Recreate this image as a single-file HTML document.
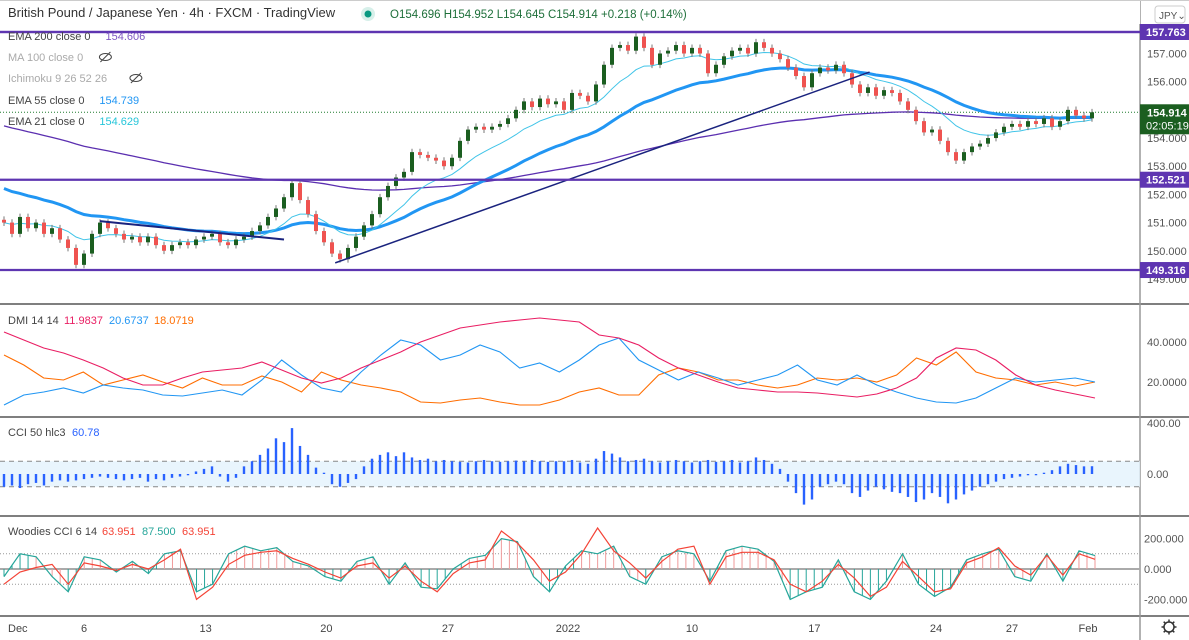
<!DOCTYPE html>
<html><head><meta charset="utf-8">
<style>
body{margin:0;background:#fff;font-family:"Liberation Sans",sans-serif;}
#wrap{position:relative;width:1189px;height:640px;overflow:hidden;}
svg text{font-family:"Liberation Sans",sans-serif;}
</style></head>
<body>
<div id="wrap">
<svg id="c" width="1189" height="640" viewBox="0 0 1189 640"></svg>
</div>
<script>
// ---- data ----
const closes=[151.0,150.6,151.2,150.8,151.0,150.6,150.8,150.4,150.1,149.5,149.9,150.6,151.0,150.8,150.6,150.4,150.5,150.3,150.5,150.2,150.0,150.2,150.3,150.2,150.4,150.5,150.6,150.3,150.2,150.4,150.5,150.7,150.9,151.2,151.5,151.9,152.4,151.8,151.3,150.7,150.3,149.9,149.7,150.1,150.5,150.9,151.3,151.9,152.3,152.6,152.8,153.5,153.4,153.3,153.2,153.0,153.3,153.9,154.3,154.4,154.3,154.4,154.5,154.7,155.0,155.3,155.1,155.4,155.2,155.3,155.0,155.6,155.5,155.3,155.9,156.6,157.2,157.3,157.1,157.6,157.2,156.6,157.0,157.1,157.3,157.0,157.2,157.0,156.3,156.6,156.9,157.1,157.2,157.0,157.4,157.2,157.0,156.8,156.5,156.2,155.8,156.3,156.5,156.4,156.6,156.3,155.9,155.6,155.8,155.5,155.7,155.6,155.3,155.0,154.6,154.2,154.3,153.9,153.5,153.2,153.5,153.7,153.8,154.0,154.2,154.4,154.5,154.4,154.6,154.5,154.7,154.4,154.6,155.0,154.8,154.7,154.914];
const levels=[157.763,152.521,149.316];
const priceTicks=[157,156,154,153,152,151,150,149];
const dmiAdx=[45,41,37,34.5,31,27,22,18.5,18.5,22,25,26,27,30,26,22,19.5,22,27,31,35,40,43.5,47,48.5,50,51,52,51,50,43.5,42,38.5,32,27,23.5,20,17,16,15,15,14.5,13.5,12.5,14,17,22,32,37,36,31,23.5,18.5,16,14,12];
const dmiPlus=[8.5,13.5,15,17,14.5,18.5,17,16,13.5,13,14.5,16,13.5,21,31,23.5,17,15,25,33.5,41,38.5,31,33.5,38.5,35,27,29.5,25,31,38.5,42,31,26,21,25,22,18.5,21,23.5,28.5,21,18.5,23.5,18.5,15,12,10,9.5,12,17,22,20,21,22,20];
const dmiMinus=[33.5,28.5,22,21,25,18.5,21,23.5,20,17,22,18.5,18.5,23,20,15,25,21,18.5,17,15,10,9.5,11,12,10,8.5,8.5,11,15,17,13.5,13.5,23.5,27,25,21,21,18.5,17,18.5,22,21,22,20,23.5,32,28.5,35,25,22,21,18.5,20,18,20];
const cci=[-100,-90,-110,-80,-70,-90,-60,-50,-60,-50,-40,-30,-20,-30,-40,-50,-40,-30,-60,-40,-50,-30,-20,-10,20,40,60,-20,-60,-30,60,100,150,200,280,250,360,220,150,50,10,-80,-100,-70,-40,60,120,150,170,140,170,130,110,120,100,110,100,95,90,100,110,100,95,100,105,100,110,100,95,100,100,110,90,80,120,180,160,130,100,110,120,100,90,100,110,100,90,100,110,95,100,110,90,100,130,110,80,40,-60,-150,-240,-200,-100,-80,-60,-80,-150,-180,-130,-100,-120,-140,-150,-180,-220,-200,-150,-180,-230,-200,-160,-130,-100,-80,-60,-40,-30,-20,-10,-10,10,30,60,80,70,60,61];
const wTeal=[-50,100,80,-50,-150,80,60,-20,50,-30,100,120,-150,-100,100,150,120,140,50,20,-50,-80,50,80,-100,40,-120,-130,0,70,90,200,180,-50,-150,20,120,100,150,-50,-100,80,120,100,-80,120,150,130,50,-200,-150,-120,60,-150,-200,-80,100,-100,-180,-120,60,100,130,-50,-80,100,-80,120,88];
const wRed=[-100,-20,10,30,-100,40,20,-10,30,0,60,130,-200,-120,30,90,110,120,70,30,-20,-60,20,40,-60,20,-80,-150,-30,40,60,250,170,60,-80,-20,100,270,120,40,-60,50,130,150,-100,80,110,110,60,-100,-150,-80,30,-60,-180,-120,50,-50,-150,-130,40,80,140,20,-40,90,-40,100,64];
const dateLabels=["Dec","6","13","20","27","2022","10","17","24","27","Feb"];
const dateBars=[0.5,10,25.2,40.3,55.5,70.5,86,101.3,116.5,126,135.5];

// ---- helpers ----
const NS="http://www.w3.org/2000/svg",svg=document.getElementById('c');
function el(t,a,p){const e=document.createElementNS(NS,t);for(const k in a)e.setAttribute(k,a[k]);(p||svg).appendChild(e);return e;}
function txt(x,y,s,fill,size,anchor){const e=el('text',{x:x,y:y,fill:fill,'font-size':size||11,'text-anchor':anchor||'start'});e.textContent=s;return e;}
const bx=i=>4+8*i;
const py=p=>32+(157.763-p)*28.18;
const dy=v=>422-v*2;
const cy=v=>474-v*0.1275;
const wy=v=>569-v*0.152;
const nx=(i,n)=>4+i*(1091/(n-1));
function ema(arr,n,seed){const a=2/(n+1);let e=seed;return arr.map(c=>(e=e+a*(c-e)));}
function pathOf(vals,xf,yf){return vals.map((v,i)=>(i?'L':'M')+xf(i).toFixed(1)+' '+yf(v).toFixed(1)).join(' ');}

// frame
el('rect',{x:0,y:0,width:1189,height:640,fill:'#fff'});
// separators
[[304,'pane-separator-1'],[417,'pane-separator-2'],[516,'pane-separator-3'],[616,'pane-separator-4']].forEach(s=>{
 const l=el('line',{x1:0,x2:1189,y1:s[0],y2:s[0],stroke:'#555','stroke-width':1.5});
 
 
});
const ax=el('line',{x1:1140,x2:1140,y1:0,y2:640,stroke:'#999','stroke-width':1.5});



// ---- main pane ----
const gMain=el('g',{});


// last price dotted line
el('line',{x1:0,x2:1140,y1:py(closes[closes.length-1]),y2:py(closes[closes.length-1]),stroke:'#1e7b2f','stroke-dasharray':'1 2','stroke-width':1},gMain);
// EMAs
const e200=ema(closes,100,154.5),e55=ema(closes,28,152.3),e21=ema(closes,11,151.0);
const l200=el('path',{d:pathOf(e200,bx,py),fill:'none',stroke:'#5b2fb0','stroke-width':1.3},gMain);


const l55=el('path',{d:pathOf(e55,bx,py),fill:'none',stroke:'#2196f3','stroke-width':3},gMain);


const l21=el('path',{d:pathOf(e21,bx,py),fill:'none',stroke:'#40c4e8','stroke-width':1},gMain);


// candles
closes.forEach((c,i)=>{
 const o=i?closes[i-1]:c+0.1;const up=c>=o;const col=up?'#1b5e20':'#ef5350';
 const hi=Math.max(o,c)+0.12,lo=Math.min(o,c)-0.12;
 const g=el('g',{},gMain);
 
 
 el('line',{x1:bx(i),x2:bx(i),y1:py(hi),y2:py(lo),stroke:'#777','stroke-width':1},g);
 el('rect',{x:bx(i)-2,y:Math.min(py(o),py(c)),width:4,height:Math.max(1,Math.abs(py(o)-py(c))),fill:col},g);
});
// trendlines
const t1=el('line',{x1:bx(12),y1:py(151.05),x2:bx(35),y2:py(150.4),stroke:'#1a237e','stroke-width':2},gMain);


const t2=el('line',{x1:bx(41.4),y1:py(149.57),x2:bx(108.2),y2:py(156.34),stroke:'#1a237e','stroke-width':1.5},gMain);


// horizontal levels
levels.forEach(v=>{
 const l=el('line',{x1:0,x2:1140,y1:py(v),y2:py(v),stroke:'#5e35b1','stroke-width':2.2},gMain);
 
 
});
// header bg
el('rect',{x:0,y:0,width:1140,height:24,fill:'#fff'});
el('line',{x1:0,x2:1189,y1:0.5,y2:0.5,stroke:'#ccc'});
el('line',{x1:0,x2:1140,y1:py(levels[0]),y2:py(levels[0]),stroke:'#5e35b1','stroke-width':2.2});
const ti=txt(8,17,'British Pound / Japanese Yen · 4h · FXCM · TradingView','#333',13);


el('circle',{cx:368,cy:14,r:7,fill:'#d7f0ea'});el('circle',{cx:368,cy:14,r:3.5,fill:'#089981'});
const ohlc=txt(390,18,'O154.696  H154.952  L154.645  C154.914  +0.218 (+0.14%)','#1e6f3a',11.5);


ohlc.setAttribute('xml:space','preserve');
// legends
function leg(y,name,label,val,valCol,eye,dim){
 const g=el('g',{});
 const t=txt(8,y,label,dim?'#aaa':'#444',11,'start');g.appendChild(t);
 if(val){const v=txt(8+label.length*6.1+6,y,val,valCol,11);g.appendChild(v);}
 if(eye){const ex=8+label.length*6.1+12;el('ellipse',{cx:ex,cy:y-4,rx:6,ry:3.5,fill:'none',stroke:'#444'},g);el('line',{x1:ex-5,y1:y+1,x2:ex+5,y2:y-9,stroke:'#444'},g);}
}
leg(40,'legend-ema200','EMA 200 close 0','154.606','#7e57c2');
leg(61,'legend-ma100','MA 100 close 0',null,null,true,true);
leg(82,'legend-ichimoku','Ichimoku 9 26 52 26',null,null,true,true);
leg(104,'legend-ema55','EMA 55 close 0','154.739','#2196f3');
leg(125,'legend-ema21','EMA 21 close 0','154.629','#26c6da');

// price axis
priceTicks.forEach(p=>{const t=txt(1147,py(p)+4,p.toFixed(3),'#555',11);});
levels.forEach(v=>{
 const g=el('g',{});
 el('rect',{x:1140,y:py(v)-8,width:49,height:16,fill:'#5e35b1'},g);
 const t=txt(1146,py(v)+4,v.toFixed(3),'#fff',11);g.appendChild(t);t.setAttribute('font-weight','bold');
});
{const g=el('g',{});
 const y=py(closes[closes.length-1]);
 el('rect',{x:1140,y:y-8,width:49,height:30,fill:'#1b5e20'},g);
 const a=txt(1147,y+4,'154.914','#fff',11);a.setAttribute('font-weight','bold');g.appendChild(a);
 g.appendChild(txt(1146,y+17,'02:05:19','#fff',11));}
{const g=el('g',{});
 el('rect',{x:1155,y:6,width:30,height:17,rx:3,fill:'#fff',stroke:'#ccc'},g);
 g.appendChild(txt(1159,19,'JPY⌄','#555',10));}

// ---- DMI ----
const gD=el('g',{});
[[dmiMinus,'#ff6d00','dmi-minus-line'],[dmiPlus,'#2196f3','dmi-plus-line'],[dmiAdx,'#e91e63','adx-line']].forEach(s=>{
 const p=el('path',{d:pathOf(s[0],i=>nx(i,s[0].length),dy),fill:'none',stroke:s[1],'stroke-width':1.1},gD);
 
 
});
[40,20].forEach(v=>{const t=txt(1147,dy(v)+4,v.toFixed(4),'#555',11);});
{const g=el('g',{});
 g.appendChild(txt(8,324,'DMI 14 14','#444',11));g.appendChild(txt(64,324,'11.9837','#e91e63',11));
 g.appendChild(txt(109,324,'20.6737','#2196f3',11));g.appendChild(txt(154,324,'18.0719','#ff6d00',11));}

// ---- CCI ----
const gC=el('g',{});
const band=el('rect',{x:0,y:cy(100),width:1140,height:cy(-100)-cy(100),fill:'#e3f2fd',opacity:0.8},gC);


[100,-100].forEach(v=>el('line',{x1:0,x2:1140,y1:cy(v),y2:cy(v),stroke:'#888','stroke-dasharray':'5 4'},gC));
cci.forEach((v,i)=>{
 const r=el('rect',{x:bx(i)-1.2,y:Math.min(cy(0),cy(v)),width:2.4,height:Math.max(1,Math.abs(cy(v)-cy(0))),fill:'#2962ff'},gC);
 
 
});
[400,0].forEach(v=>{const t=txt(1147,cy(v)+4,v.toFixed(2),'#555',11);});
{const g=el('g',{});
 g.appendChild(txt(8,436,'CCI 50 hlc3','#444',11));g.appendChild(txt(72,436,'60.78','#2962ff',11));}

// ---- Woodies ----
const gW=el('g',{});
[100,-100].forEach(v=>el('line',{x1:0,x2:1140,y1:wy(v),y2:wy(v),stroke:'#999','stroke-dasharray':'1 2'},gW));
el('line',{x1:0,x2:1140,y1:wy(0),y2:wy(0),stroke:'#aaa','stroke-width':2},gW);
wTeal.forEach((v,i)=>{
 const n=wTeal.length;
 [0,0.5].forEach(f=>{
  const j=Math.min(i+f,n-1);const vv=f?(v+wTeal[Math.min(i+1,n-1)])/2:v;
  const h=el('line',{x1:nx(j,n),x2:nx(j,n),y1:wy(0),y2:wy(vv),stroke:wRed[i]>0?'#ef9a9a':'#26a69a','stroke-width':1},gW);
  
  
 });
});
const pt=el('path',{d:pathOf(wTeal,i=>nx(i,wTeal.length),wy),fill:'none',stroke:'#26a69a','stroke-width':1.2},gW);


const pr=el('path',{d:pathOf(wRed,i=>nx(i,wRed.length),wy),fill:'none',stroke:'#f44336','stroke-width':1.2},gW);


[200,0,-200].forEach(v=>{const t=txt(1144,wy(v)+4,v.toFixed(3),'#555',11);});
{const g=el('g',{});
 g.appendChild(txt(8,535,'Woodies CCI 6 14','#444',11));g.appendChild(txt(102,535,'63.951','#f44336',11));
 g.appendChild(txt(142,535,'87.500','#26a69a',11));g.appendChild(txt(182,535,'63.951','#f44336',11));}

// ---- time axis ----
dateLabels.forEach((s,i)=>{
 const t=txt(bx(dateBars[i]),632,s,'#444',11,i===0?'start':'middle');
 
 
});
{const g=el('g',{});
 el('circle',{cx:1169,cy:627,r:5,fill:'none',stroke:'#333','stroke-width':1.5},g);
 for(let k=0;k<8;k++){const a=k*Math.PI/4;el('line',{x1:1169+5*Math.cos(a),y1:627+5*Math.sin(a),x2:1169+7.5*Math.cos(a),y2:627+7.5*Math.sin(a),stroke:'#333','stroke-width':1.5},g);}}
</script>
</body></html>
